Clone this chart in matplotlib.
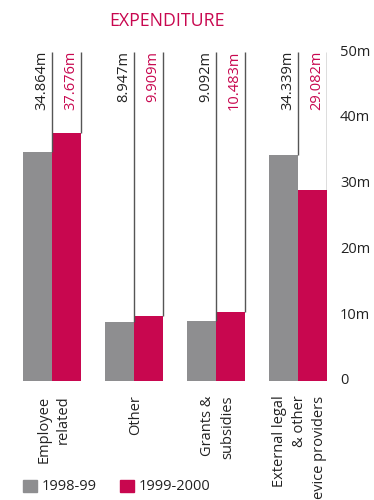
import matplotlib
matplotlib.use("Agg")
import matplotlib.pyplot as plt
import numpy as np

plt.rcParams['font.family'] = ['Open Sans', 'DejaVu Sans']

categories = ["Employee\nrelated", "Other", "Grants &\nsubsidies", "External legal\n& other\nsevice providers"]
values_9899 = [34.864, 8.947, 9.092, 34.339]
values_9900 = [37.676, 9.909, 10.483, 29.082]
series_names = ["1998-99", "1999-2000"]
yticks = [0, 10, 20, 30, 40, 50]
ytick_labels = ["0", "10m", "20m", "30m", "40m", "50m"]

GRAY = "#8e8e90"
RED = "#c8074f"

fig = plt.figure(figsize=(3.74, 5.0), dpi=100)
ax = fig.add_axes([23/374, 1-381/500, 304/374, 329/500])

x = np.arange(len(categories))
w = 0.354
ax.bar(x - w/2, values_9899, width=w, color=GRAY, edgecolor='none')
ax.bar(x + w/2, values_9900, width=w, color=RED, edgecolor='none')

for i in range(len(categories)):
    for v, xe, col in [(values_9899[i], x[i], "#222222"), (values_9900[i], x[i] + w, RED)]:
        ax.vlines(xe, v, 50, color="#555555", lw=1.0)
        ax.text(xe - 0.035, 50.2, f"{v:.3f}m", rotation=90, ha='right', va='top',
                color=col, fontsize=10.5)

ax.set_xlim(-w, len(categories) - 1 + w)
ax.set_ylim(0, 50)
ax.set_xticks([])
ax.set_yticks([])
for s in ax.spines.values():
    s.set_visible(False)

for t, lab in zip(yticks, ytick_labels):
    ax.text(1.0 + 13/304, t, lab, transform=ax.get_yaxis_transform(), ha='left', va='center',
            fontsize=10.5, color="#222222")

for i, c in enumerate(categories):
    ax.text(x[i] + 0.02, -2.2, c, rotation=90, ha='center', va='top', multialignment='right',
            fontsize=10.5, color="#222222", linespacing=1.45)

fig.text(167/374, 1-21/500, "EXPENDITURE", color=RED, fontsize=12.8, ha='center', va='center')

# legend
fig.patches.append(plt.Rectangle((23/374, 1-492/500), 14/374, 12/500, transform=fig.transFigure,
                                 color=GRAY, figure=fig))
fig.text(42/374, 1-486/500, series_names[0], fontsize=10.5, ha='left', va='center', color="#222222")
fig.patches.append(plt.Rectangle((120/374, 1-492/500), 14/374, 12/500, transform=fig.transFigure,
                                 color=RED, figure=fig))
fig.text(139/374, 1-486/500, series_names[1], fontsize=10.5, ha='left', va='center', color="#222222")

fig.savefig("out.png", dpi=100)
